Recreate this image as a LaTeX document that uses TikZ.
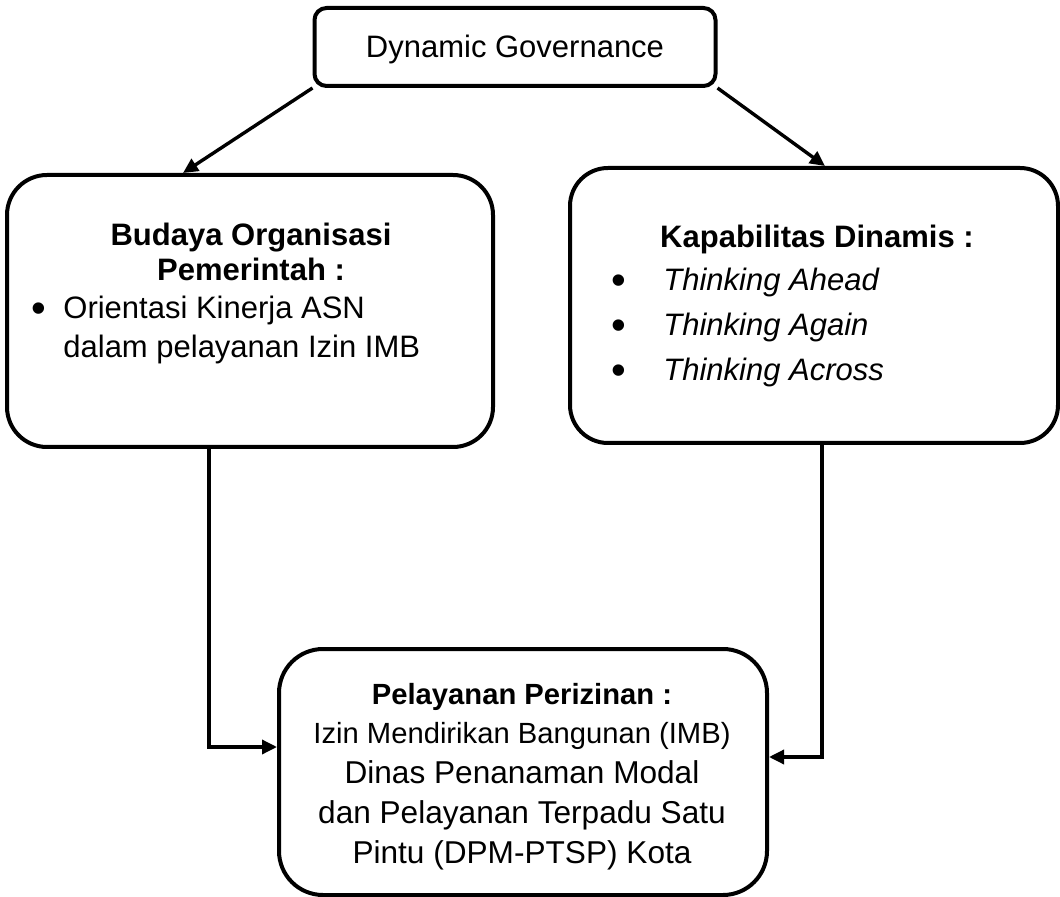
\documentclass[tikz,border=0pt]{standalone}
\usepackage{fontspec}
\setmainfont{Liberation Sans}
\usetikzlibrary{arrows.meta}
\usetikzlibrary{calc}
\tikzset{
  dgbox/.style={draw, line width=2pt, inner sep=0pt},
  dgarrow/.style={-{Triangle[length=7.5pt, width=7pt]}, line width=1.7pt},
  dgtext/.style={font=\fontsize{15.5}{19}\selectfont, inner sep=0pt,
    text height=11pt, text depth=0pt},
  dghead/.style={dgtext, font=\fontsize{15.5}{19}\selectfont\bfseries},
  dgitem/.style={dgtext, anchor=west, font=\fontsize{15.5}{19}\selectfont\itshape},
  dgdot/.style={inner sep=0pt, yshift=-2.5pt, font=\fontsize{21}{21}\selectfont},
}

\begin{document}
\begin{tikzpicture}[x=0.5pt, y=0.5pt]
\useasboundingbox (0, 0) rectangle (1060, -897);

% The four boxes.
\node[dgbox, dgtext, rounded corners=6pt, minimum width=200.5pt,
      minimum height=39pt] (governance) at (515, -47) {Dynamic Governance};
\node[dgbox, rounded corners=20pt, minimum width=243pt,
      minimum height=136pt] (budaya) at (250, -311) {};
\node[dgbox, rounded corners=19pt, minimum width=244pt,
      minimum height=137.5pt] (kapabilitas) at (814, -305.5) {};
\node[dgbox, rounded corners=22pt, minimum width=244pt,
      minimum height=123pt] (pelayanan) at (523, -772) {};

% Left box: organisational culture.
\node[dghead] (budaya-title1) at (251, -235) {Budaya Organisasi};
\node[dghead] (budaya-title2) at (251, -270) {Pemerintah :};
\node[dgdot] (budaya-dot) at (39, -308) {\textbullet};
\node[dgtext, anchor=west] (budaya-item1) at (63, -308) {Orientasi Kinerja ASN};
\node[dgtext, anchor=west] (budaya-item2) at (63, -347)
  {dalam pelayanan Izin IMB};

% Right box: dynamic capabilities.
\node[dghead] (kapabilitas-title) at (817, -237) {Kapabilitas Dinamis :};
\foreach \i/\y/\word in {1/280/Ahead, 2/325/Again, 3/370/Across} {
  \node[dgdot] (kapabilitas-dot\i) at (619, -\y) {\textbullet};
  \node[dgitem] (kapabilitas-item\i) at (663, -\y) {Thinking \word};
}

% Bottom box: licensing service.
\node[dghead, font=\fontsize{14.6}{18}\selectfont\bfseries]
  (pelayanan-title) at (522, -693) {Pelayanan Perizinan :};
\node[dgtext, font=\fontsize{14.6}{18}\selectfont]
  (pelayanan-line1) at (522, -732) {Izin Mendirikan Bangunan (IMB)};
\foreach \i/\y/\txt in {%
    2/772/{Dinas Penanaman Modal},
    3/812/{dan Pelayanan Terpadu Satu},
    4/852/{Pintu (DPM-PTSP) Kota}} {
  \node[dgtext, font=\fontsize{15.8}{19}\selectfont]
    (pelayanan-line\i) at (522, -\y) {\txt};
}

% Connectors.
\draw[dgarrow] (governance.south west) -- ($(budaya.north west)+(178,0)$);
\draw[dgarrow] (governance.south east) -- ($(kapabilitas.north west)+(257,0)$);
\draw[dgarrow] ($(budaya.south west)+(204,0)$) |- ($(pelayanan.west)+(0,25)$);
\draw[dgarrow] ($(kapabilitas.south west)+(254,0)$)
  |- ($(pelayanan.east)+(0,15)$);

\end{tikzpicture}
\end{document}
